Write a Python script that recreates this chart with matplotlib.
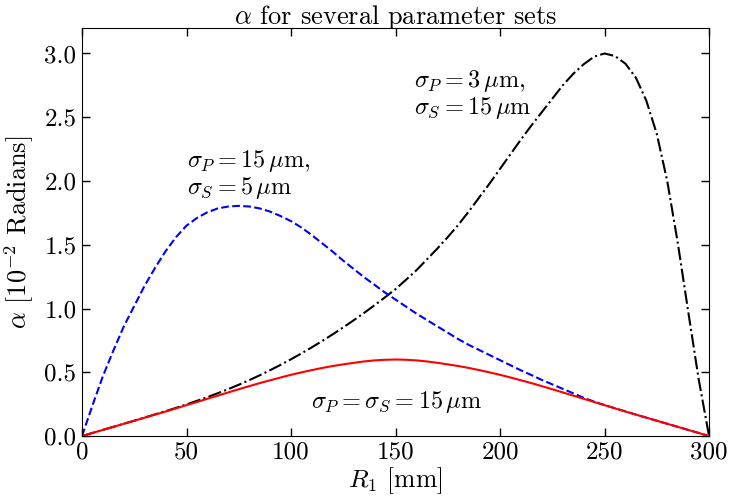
import matplotlib
matplotlib.use("Agg")
import matplotlib.pyplot as plt

plt.rcParams["font.family"] = ["cmr10", "DejaVu Serif"]
plt.rcParams["mathtext.fontset"] = "cm"
plt.rcParams["axes.formatter.use_mathtext"] = True

# Radius R1 in mm (5 mm steps)
r1_mm = [0, 5, 10, 15, 20, 25, 30, 35, 40, 45, 50, 55, 60, 65, 70, 75, 80, 85, 90, 95,
         100, 105, 110, 115, 120, 125, 130, 135, 140, 145, 150, 155, 160, 165, 170, 175,
         180, 185, 190, 195, 200, 205, 210, 215, 220, 225, 230, 235, 240, 245, 250, 255,
         260, 265, 270, 275, 280, 285, 290, 295, 300]

# alpha in units of 1e-2 rad
alpha_equal = [0.0, 0.024, 0.048, 0.072, 0.096, 0.12, 0.144, 0.168, 0.192, 0.217, 0.242,
               0.267, 0.292, 0.317, 0.342, 0.367, 0.391, 0.415, 0.437, 0.459, 0.48, 0.499,
               0.517, 0.534, 0.549, 0.562, 0.574, 0.585, 0.593, 0.598, 0.6, 0.598, 0.593,
               0.585, 0.574, 0.562, 0.549, 0.534, 0.517, 0.499, 0.48, 0.459, 0.437, 0.415,
               0.391, 0.367, 0.342, 0.317, 0.292, 0.267, 0.242, 0.217, 0.192, 0.168, 0.144,
               0.12, 0.096, 0.072, 0.048, 0.024, 0.0]

alpha_p15_s5 = [0.0, 0.24, 0.47, 0.67, 0.86, 1.02, 1.18, 1.32, 1.45, 1.56, 1.65, 1.71,
                1.755, 1.785, 1.80, 1.805, 1.80, 1.785, 1.76, 1.725, 1.685, 1.635, 1.575,
                1.51, 1.445, 1.375, 1.31, 1.245, 1.185, 1.125, 1.07, 1.015, 0.96, 0.91,
                0.86, 0.81, 0.76, 0.715, 0.675, 0.635, 0.595, 0.555, 0.515, 0.478, 0.44,
                0.405, 0.37, 0.335, 0.30, 0.27, 0.243, 0.218, 0.193, 0.168, 0.144, 0.12,
                0.096, 0.072, 0.048, 0.024, 0.0]

alpha_p3_s15 = [0.0, 0.024, 0.048, 0.072, 0.096, 0.12, 0.145, 0.17, 0.195, 0.221, 0.248,
                0.276, 0.305, 0.336, 0.368, 0.402, 0.438, 0.476, 0.516, 0.558, 0.602,
                0.648, 0.696, 0.746, 0.798, 0.852, 0.908, 0.966, 1.026, 1.088, 1.152,
                1.225, 1.30, 1.385, 1.47, 1.56, 1.655, 1.76, 1.87, 1.98, 2.095, 2.21,
                2.325, 2.435, 2.54, 2.645, 2.75, 2.84, 2.915, 2.975, 3.0, 2.98, 2.92,
                2.81, 2.63, 2.37, 2.0, 1.52, 0.98, 0.45, 0.0]

x_ticks = [0, 50, 100, 150, 200, 250, 300]
y_ticks = [0.0, 0.5, 1.0, 1.5, 2.0, 2.5, 3.0]

fig = plt.figure(figsize=(7.29, 4.97), dpi=100)
ax = fig.add_axes([0.1125, 0.1227, 0.8601, 0.821])

ax.plot(r1_mm, alpha_p3_s15, color="black", linestyle="-.", linewidth=1.5)
ax.plot(r1_mm, alpha_p15_s5, color="blue", linestyle="--", linewidth=1.5)
ax.plot(r1_mm, alpha_equal, color="red", linestyle="-", linewidth=1.5)

ax.set_xlim(0, 300)
ax.set_ylim(0, 3.2)
ax.set_xticks(x_ticks)
ax.set_yticks(y_ticks)
ax.set_xticklabels([str(v) for v in x_ticks])
ax.set_yticklabels([f"{v:.1f}" for v in y_ticks])
ax.tick_params(direction="in", top=True, right=True, length=6, width=1,
               labelsize=18, pad=4)

ax.set_title(r"$\alpha$ for several parameter sets", fontsize=19, pad=3)
ax.set_xlabel(r"$R_1$ [mm]", fontsize=18.5, labelpad=1)
ax.set_ylabel(r"$\alpha$ [$10^{-2}$ Radians]", fontsize=19, labelpad=6)

ax.text(50, 2.05, "$\\sigma_P = 15\\,\\mu$m,\n$\\sigma_S = 5\\,\\mu$m", fontsize=17.5,
        ha="left", va="center", linespacing=1.05)
ax.text(159, 2.68, "$\\sigma_P = 3\\,\\mu$m,\n$\\sigma_S = 15\\,\\mu$m", fontsize=17.5,
        ha="left", va="center", linespacing=1.05)
ax.text(109.5, 0.27, "$\\sigma_P = \\sigma_S = 15\\,\\mu$m", fontsize=17.5,
        ha="left", va="center")

fig.savefig("out.png", dpi=100)
